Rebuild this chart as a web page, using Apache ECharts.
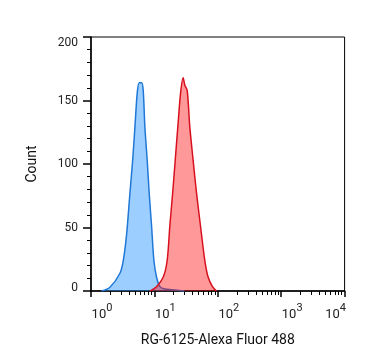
<!DOCTYPE html>
<html>
<head>
<meta charset="utf-8">
<script src="https://cdn.jsdelivr.net/npm/echarts@6/dist/echarts.min.js"></script>
<style>html,body{margin:0;padding:0;background:#fff;}#c{width:367px;height:364px;}</style>
</head>
<body>
<div id="c"></div>
<script>
// Fluorescence intensity (linear units) and event counts
const blueX = [1.47, 1.99, 2.86, 3.23, 3.65, 4.11, 4.54, 4.93, 5.36, 5.76, 6.29, 6.66, 7.08, 7.70, 8.28, 9.03, 9.82, 10.8, 12.2, 14.6, 18.9, 30];
const blueCount = [0, 3, 14, 24, 45, 77, 103, 129, 156, 164, 164, 158, 129, 103, 77, 51, 24, 11, 3.5, 1.5, 1, 0];
const redX = [8.49, 10.8, 13.8, 15.9, 17.5, 19.4, 21.3, 23.4, 25.9, 28.4, 30.2, 32.9, 36.2, 40.8, 46.2, 53.4, 62.4, 70.3, 82.5, 95.4];
const redCount = [0, 3.4, 11, 24, 51, 77, 103, 129, 156, 168, 162, 158, 129, 103, 77, 51, 24, 11, 3.4, 0];
const decadeTicks = [1, 10, 100, 1000, 10000];
const minorMultipliers = [2, 3, 4, 5, 6, 7, 8, 9];
const yMin = 0, yMax = 200, yStep = 50;

const xTitle = 'RG-6125-Alexa Fluor 488';
const yTitle = 'Count';

const minorTickPos = [];
for (let d = 0; d < decadeTicks.length - 1; d++) {
  minorMultipliers.forEach(m => minorTickPos.push(Math.log10(decadeTicks[d] * m)));
}

const chart = echarts.init(document.getElementById('c'));
const font = 'Roboto';
const lastExp = decadeTicks.length - 1;
const yl = { fontFamily: font, fontSize: 12, color: '#222' };
chart.setOption({
  animation: false,
  grid: { left: 91, right: 21, top: 37, bottom: 73, show: true, borderColor: '#000', borderWidth: 1, containLabel: false },
  xAxis: [{
    type: 'log', logBase: 10, min: decadeTicks[0], max: decadeTicks[lastExp],
    name: xTitle, nameLocation: 'middle', nameGap: 42,
    nameTextStyle: { fontFamily: font, fontSize: 14, color: '#111' },
    axisLine: { show: true, lineStyle: { color: '#000', width: 1.5 } },
    axisTick: { show: true, length: 6, lineStyle: { color: '#000', width: 1.5 } },
    splitLine: { show: false },
    minorTick: { show: false },
    axisLabel: {
      show: true, margin: 12, showMinLabel: true, showMaxLabel: true, hideOverlap: false,
      formatter: v => {
        const e = Math.round(Math.log10(v));
        return e === lastExp ? '{bl|10}{sl|' + e + '}' : '{b|10}{s|' + e + '}';
      },
      rich: {
        b: { fontFamily: font, fontSize: 13, color: '#222', lineHeight: 18, verticalAlign: 'bottom', padding: [0, 0, 0, 22] },
        s: { fontFamily: font, fontSize: 11, color: '#222', lineHeight: 11, verticalAlign: 'top' },
        bl: { fontFamily: font, fontSize: 13, color: '#222', lineHeight: 18, verticalAlign: 'bottom' },
        sl: { fontFamily: font, fontSize: 11, color: '#222', lineHeight: 11, verticalAlign: 'top', padding: [0, 18, 0, 0] }
      }
    }
  }, {
    type: 'value', min: 0, max: lastExp, position: 'bottom',
    axisLine: { show: false },
    axisTick: { show: true, length: 4, customValues: minorTickPos, lineStyle: { color: '#000', width: 1 } },
    axisLabel: { show: false },
    splitLine: { show: false }
  }],
  yAxis: {
    type: 'value', min: yMin, max: yMax, interval: yStep,
    name: yTitle, nameLocation: 'middle', nameGap: 52, nameRotate: 90,
    nameTextStyle: { fontFamily: font, fontSize: 14, color: '#111' },
    axisLine: { show: true, lineStyle: { color: '#000', width: 1.5 } },
    axisTick: { show: true, length: 8, lineStyle: { color: '#000', width: 1.5 } },
    minorTick: { show: true, splitNumber: 5, length: 4, lineStyle: { color: '#000', width: 1 } },
    splitLine: { show: false },
    axisLabel: {
      margin: 13, showMinLabel: true, showMaxLabel: true,
      formatter: v => v === yMax ? '{top|' + v + '}' : (v === yMin ? '{bot|' + v + '}' : '{n|' + v + '}'),
      rich: {
        n: yl,
        top: Object.assign({}, yl, { padding: [12, 0, 0, 0] }),
        bot: Object.assign({}, yl, { padding: [0, 0, 7, 0] })
      }
    }
  },
  series: [{
    type: 'line', xAxisIndex: 0, smooth: 0.3, showSymbol: false,
    data: blueX.map((x, i) => [x, blueCount[i]]),
    lineStyle: { color: '#1f78d6', width: 1.5 },
    areaStyle: { color: 'rgba(30,144,255,0.44)', opacity: 1 },
    z: 2
  }, {
    type: 'line', xAxisIndex: 0, smooth: 0.3, showSymbol: false,
    data: redX.map((x, i) => [x, redCount[i]]),
    lineStyle: { color: '#d8101e', width: 1.5 },
    areaStyle: { color: 'rgba(255,0,0,0.4)', opacity: 1 },
    z: 3
  }]
});
</script>
</body>
</html>
